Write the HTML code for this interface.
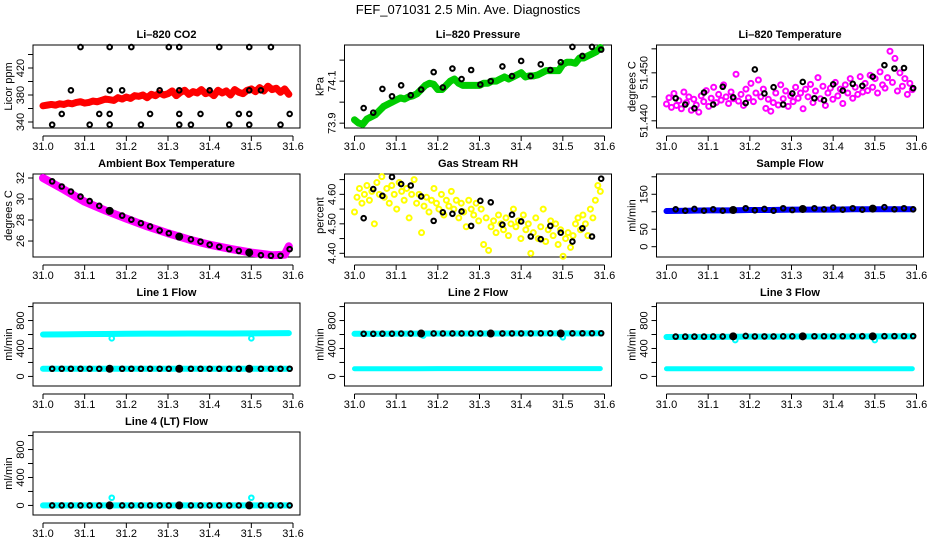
<!DOCTYPE html>
<html><head><meta charset="utf-8"><style>
html,body{margin:0;padding:0;background:#fff}
svg{display:block;font-family:"Liberation Sans",sans-serif}
</style></head><body>
<svg id="s" width="936" height="540" viewBox="0 0 936 540">
<rect width="936" height="540" fill="#fff"/>
<text x="468" y="14" text-anchor="middle" font-size="13">FEF_071031  2.5 Min. Ave. Diagnostics</text>
</svg>
<script>
const blackX=[31.022,31.045,31.067,31.09,31.112,31.135,31.16,31.19,31.212,31.235,31.257,31.28,31.302,31.327,31.355,31.378,31.4,31.423,31.447,31.47,31.495,31.523,31.547,31.57,31.592];
const filledX=[31.16,31.327,31.495];
const xTicks=[31.0,31.1,31.2,31.3,31.4,31.5,31.6];
const xTickLabels=["31.0","31.1","31.2","31.3","31.4","31.5","31.6"];

const co2Black=[336,352,387,451,336,352,387,387,451,336,352,387,451,387,336,352,387,451,336,352,387,387,451,336,352];
const co2ExtraX=[31.16,31.16,31.16,31.327,31.327,31.327,31.495,31.495,31.495];
const co2ExtraY=[451,352,336,451,352,336,451,352,336];
const co2Red=[364,365,366,365,367,366,368,367,369,370,368,369,371,370,372,374,373,372,376,374,377,375,379,378,380,376,381,379,383,380,382,386,379,384,387,381,385,383,388,382,384,379,387,383,386,380,388,384,382,387,389,385,391,386,393,388,390,384,389,381];

const presGreen=[73.916,73.90,73.895,73.92,73.93,73.94,73.96,73.98,73.99,74.0,74.01,74.02,74.015,74.025,74.03,74.04,74.06,74.08,74.09,74.085,74.06,74.06,74.08,74.10,74.11,74.09,74.08,74.08,74.08,74.08,74.08,74.09,74.09,74.10,74.10,74.11,74.12,74.11,74.12,74.13,74.14,74.12,74.125,74.125,74.13,74.14,74.15,74.15,74.15,74.15,74.18,74.19,74.19,74.185,74.21,74.21,74.22,74.23,74.24,74.26];
const presBlack=[73.972,73.95,74.063,74.028,74.08,74.033,74.06,74.143,74.07,74.16,74.11,74.153,74.084,74.1,74.17,74.124,74.196,74.124,74.18,74.153,74.19,74.263,74.22,74.263,74.25];

const tempMag=[51.4435,51.4448,51.4428,51.4457,51.4432,51.4442,51.4425,51.4460,51.4438,51.4450,51.4422,51.4445,51.4433,51.4418,51.4452,51.4440,51.4463,51.4430,51.4447,51.4470,51.4438,51.4455,51.4443,51.4475,51.4450,51.4436,51.4460,51.4446,51.4497,51.4441,51.4455,51.4432,51.4466,51.4448,51.4478,51.4440,51.4458,51.4485,51.4450,51.4466,51.4426,51.4445,51.4420,51.4438,51.4458,51.4433,51.4475,51.4446,51.4462,51.4430,51.4452,51.4440,51.4470,51.4447,51.4458,51.4425,51.4466,51.4450,51.4476,51.4438,51.4462,51.4490,51.4446,51.4472,51.4432,51.4458,51.4468,51.4445,51.4480,51.4452,51.4466,51.4436,51.4475,51.4458,51.4488,51.4447,51.4470,51.4455,51.4492,51.4460,51.4478,51.4463,51.4495,51.4470,51.4488,51.4458,51.4502,51.4475,51.4468,51.4490,51.4545,51.4480,51.4530,51.4462,51.4500,51.4472,51.4488,51.4455,51.4478,51.4465];
const tempBlack=[51.4447,51.4434,51.4426,51.4459,51.4434,51.4471,51.4449,51.4437,51.4507,51.4457,51.447,51.4434,51.4457,51.4481,51.4447,51.4443,51.4476,51.4463,51.4477,51.4473,51.4492,51.4516,51.4509,51.451,51.4468];

const ambX=[31.0,31.05,31.1,31.15,31.2,31.25,31.3,31.35,31.4,31.45,31.5,31.55,31.58,31.59];
const ambMag=[32.0,30.9,29.74,28.9,28.13,27.4,26.74,26.15,25.65,25.25,24.9,24.65,24.7,25.5];
const ambBlack=[31.68,31.19,30.71,30.23,29.8,29.35,28.87,28.42,28.03,27.7,27.39,27.0,26.74,26.42,26.16,25.94,25.65,25.45,25.23,25.06,24.9,24.65,24.6,24.6,25.23];

const rhYellow=[4.54,4.59,4.62,4.57,4.60,4.63,4.58,4.61,4.50,4.64,4.60,4.66,4.59,4.62,4.57,4.63,4.60,4.55,4.64,4.61,4.58,4.62,4.52,4.60,4.65,4.57,4.60,4.47,4.56,4.59,4.54,4.58,4.62,4.57,4.55,4.60,4.53,4.58,4.56,4.61,4.55,4.58,4.52,4.57,4.54,4.49,4.58,4.55,4.53,4.57,4.51,4.55,4.43,4.52,4.41,4.49,4.51,4.47,4.53,4.50,4.48,4.52,4.46,4.50,4.55,4.49,4.51,4.45,4.53,4.48,4.50,4.40,4.47,4.52,4.45,4.49,4.55,4.44,4.48,4.51,4.46,4.50,4.43,4.48,4.39,4.45,4.47,4.42,4.46,4.50,4.52,4.48,4.53,4.50,4.46,4.55,4.52,4.58,4.63,4.61];
const rhBlack=[4.519,4.618,4.595,4.659,4.635,4.63,4.593,4.51,4.539,4.534,4.542,4.493,4.578,4.573,4.497,4.531,4.508,4.457,4.448,4.493,4.47,4.44,4.485,4.457,4.653];

const flowBandX=[31.0,31.05,31.1,31.15,31.2,31.25,31.3,31.35,31.4,31.45,31.5,31.55,31.59];
const sampleBlue=[102,103,104,104,105,105,106,106,106,107,107,107,107];
const sampleBlack=[107,103,108,103,107,103,105,110,104,108,103,110,105,108,110,107,112,106,110,106,109,113,107,110,107];

const l1Upper=[600,602,605,608,610,612,612,614,615,615,616,618,620];
const l1Lower=[110,110,110,110,110,110,110,110,110,110,110,110,110];
const l1Black=[110,110,110,110,110,110,110,110,110,110,110,110,110,110,110,110,110,110,110,110,110,110,110,110,110];
const l2Upper=[610,610,612,612,614,614,615,615,616,616,617,617,618];
const l2Lower=[110,110,110,110,112,112,112,112,112,112,112,112,112];
const l2Black=[610,610,612,612,614,614,615,615,615,615,615,615,615,615,616,616,616,616,617,617,617,617,618,618,618];
const l3Upper=[565,566,567,568,570,570,571,571,572,572,573,573,574];
const l3Lower=[110,110,110,110,110,110,110,110,110,110,110,110,110];
const l3Black=[570,570,571,571,572,572,572,580,573,573,573,574,574,574,575,575,575,575,576,576,576,576,577,577,577];
const l4Band=[0,0,0,0,0,0,0,0,0,0,0,0,0];
const l4Black=[0,0,0,0,0,0,0,0,0,0,0,0,0,0,0,0,0,0,0,0,0,0,0,0,0];
const outlierX=[31.165,31.5];
const l1Out=[545,545];
const l2Out=[585,560];
const l3Out=[520,520];
const l4Out=[110,110];

const NS="http://www.w3.org/2000/svg";
const svg=document.getElementById('s');
function mk(tag,attrs,parent){const e=document.createElementNS(NS,tag);for(const k in attrs)e.setAttribute(k,attrs[k]);(parent||svg).appendChild(e);return e;}
const colOff=[0,311.5,623.5], rowTop=[45,174,303,432];

function panel(c,r,ymin,ymax,yTicks,yLabels,title,ytitle,key){
  const off=colOff[c],top=rowTop[r],bot=top+83;
  const g=mk('g',{});
  
  
  const sx=v=>off+43+(v-31)*250/0.6;
  const sy=v=>bot-(v-ymin)/(ymax-ymin)*83;
  const t=mk('text',{x:off+166.5,y:top-7,'text-anchor':'middle','font-size':11,'font-weight':'bold'},g);
  t.textContent=title;
  
  
  const bx=mk('rect',{x:off+33,y:top,width:267,height:83,fill:'none',stroke:'#000','stroke-width':1},g);
  
  
  const xa=mk('g',{},g);
  
  
  mk('line',{x1:sx(31),x2:sx(31.6),y1:bot+8,y2:bot+8,stroke:'#000'},xa);
  xTicks.forEach((v,i)=>{
    mk('line',{x1:sx(v),x2:sx(v),y1:bot+8,y2:bot+13,stroke:'#000'},xa);
    const l=mk('text',{x:sx(v),y:bot+22,'text-anchor':'middle','font-size':11},xa);
    l.textContent=xTickLabels[i];
    
    
  });
  const ya=mk('g',{},g);
  
  
  mk('line',{x1:off+33,x2:off+33,y1:sy(yTicks[0]),y2:sy(yTicks[yTicks.length-1]),stroke:'#000'},ya);
  yTicks.forEach((v,i)=>{
    mk('line',{x1:off+28,x2:off+33,y1:sy(v),y2:sy(v),stroke:'#000'},ya);
    if(yLabels[i]){
      const l=mk('text',{x:off+24,y:sy(v),'text-anchor':'middle','font-size':11,transform:`rotate(-90 ${off+24} ${sy(v)})`},ya);
      l.textContent=yLabels[i];
      
      
    }
  });
  const yt=mk('text',{x:off+12,y:top+41.5,'text-anchor':'middle','font-size':11,transform:`rotate(-90 ${off+12} ${top+41.5})`},g);
  yt.textContent=ytitle;
  
  
  return {g,sx,sy};
}
function pts(p,xs,ys,color,name,r,sw,fill){
  xs.forEach((x,i)=>{
    const e=mk('circle',{cx:p.sx(x),cy:p.sy(ys[i]),r:r||2.3,fill:fill||'none',stroke:color,'stroke-width':sw||2},p.g);
    
    
  });
}
function band(p,xs,ys,color,w,name){
  const e=mk('polyline',{points:xs.map((x,i)=>p.sx(x)+','+p.sy(ys[i])).join(' '),fill:'none',stroke:color,'stroke-width':w,'stroke-linejoin':'round','stroke-linecap':'round'},p.g);
  
  
}
const idxX=(n,start,end)=>Array.from({length:n},(_,i)=>start+i*(end-start)/(n-1));

let p=panel(0,0,331.1,454.1,[340,360,380,400,420,440],["340","","380","","420",""],"Li\u2013820 CO2","Licor ppm","co2");
const co2X=idxX(co2Red.length,31.0,31.59);
band(p,co2X,co2Red,'#ff0000',7,'co2-red-band');
pts(p,co2X,co2Red,'#ff0000','co2-red-point');
pts(p,blackX,co2Black,'#000','co2-black-point');
pts(p,co2ExtraX,co2ExtraY,'#000','co2-black-point');

p=panel(1,0,73.877,74.272,[73.9,74.0,74.1,74.2],["73.9","","74.1",""],"Li\u2013820 Pressure","kPa","pressure");
const presX=idxX(presGreen.length,31.0,31.59);
band(p,presX,presGreen,'#00cc00',7,'pressure-green-band');
pts(p,presX,presGreen,'#00cc00','pressure-green-point');
pts(p,blackX,presBlack,'#000','pressure-black-point');

p=panel(2,0,51.4385,51.4558,[51.44,51.445,51.45,51.455],["51.440","","51.450",""],"Li\u2013820 Temperature","degrees C","temperature");
const tempX=idxX(tempMag.length,31.0,31.59);
pts(p,tempX,tempMag,'#ff00ff','temperature-magenta-point',2.5,2);
pts(p,blackX,tempBlack,'#000','temperature-black-point');

p=panel(0,1,24.48,32.38,[26,28,30,32],["26","28","30","32"],"Ambient Box Temperature","degrees C","ambient");
band(p,ambX,ambMag,'#ff00ff',8,'ambient-magenta-band');
pts(p,blackX,ambBlack,'#000','ambient-black-point');
pts(p,filledX,[28.87,26.42,24.9],'#000','ambient-black-filled',3.5,1,'#000');

p=panel(1,1,4.3875,4.669,[4.40,4.45,4.50,4.55,4.60,4.65],["4.40","","4.50","","4.60",""],"Gas Stream RH","percent","rh");
const rhX=idxX(rhYellow.length,31.0,31.59);
pts(p,rhX,rhYellow,'#ffff00','rh-yellow-point',2.5,2);
pts(p,blackX,rhBlack,'#000','rh-black-point');

p=panel(2,1,-29.5,208,[0,50,100,150,200],["0","50","","150",""],"Sample Flow","ml/min","sample-flow");
band(p,flowBandX,sampleBlue,'#0000ff',6,'sample-blue-band');
pts(p,blackX,sampleBlack,'#000','sample-black-point');
pts(p,filledX,[105,108,109],'#000','sample-black-filled',3.5,1,'#000');

const flowTicks=[0,200,400,600,800,1000], flowLabels=["0","","400","","800",""];
function flowPanel(c,r,title,key,up,low,blk,out,ol,lw){
  const q=panel(c,r,-137,1051,flowTicks,flowLabels,title,"ml/min",key);
  if(up) band(q,flowBandX,up,'#00ffff',6,key+'-upper-band');
  band(q,flowBandX,low,'#00ffff',lw,key+'-lower-band');
  pts(q,outlierX,out,'#00ffff',key+'-outlier');
  pts(q,blackX,blk,'#000',key+'-black-point');
  pts(q,filledX,[ol,ol,ol],'#000',key+'-black-filled',3.5,1,'#000');
}
flowPanel(0,2,"Line 1 Flow","line1-flow",l1Upper,l1Lower,l1Black,l1Out,110,6);
flowPanel(1,2,"Line 2 Flow","line2-flow",l2Upper,l2Lower,l2Black,l2Out,614,5);
flowPanel(2,2,"Line 3 Flow","line3-flow",l3Upper,l3Lower,l3Black,l3Out,574,5);
flowPanel(0,3,"Line 4 (LT) Flow","line4-flow",null,l4Band,l4Black,l4Out,0,6);
</script>
</body></html>
